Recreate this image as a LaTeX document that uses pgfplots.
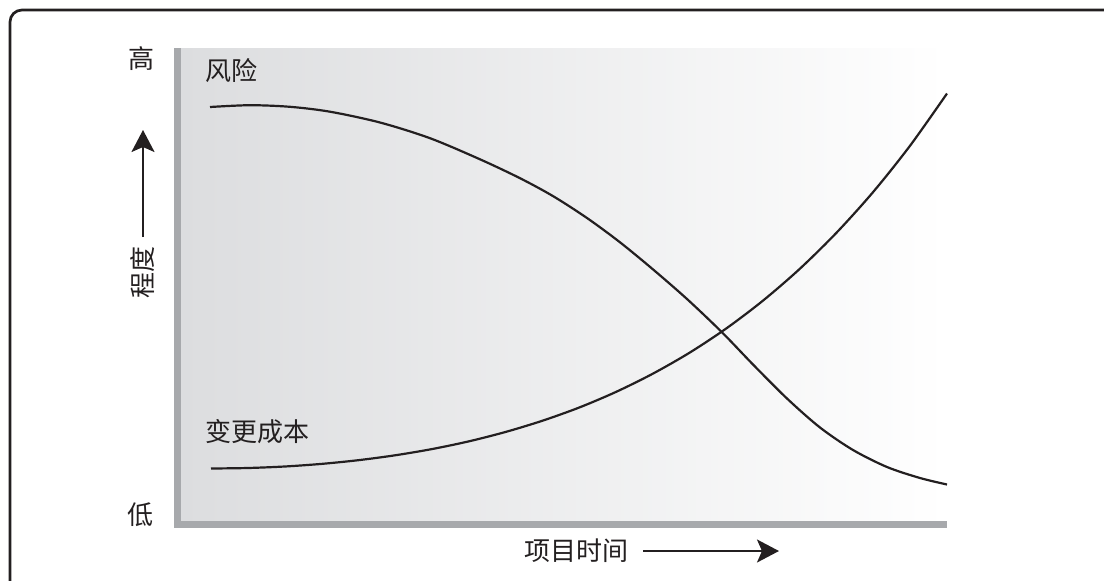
\documentclass[border=0pt]{standalone}
\usepackage{fontspec}
\setmainfont{Noto Sans CJK SC}
\usepackage{pgfplots}
\pgfplotsset{compat=1.18}
\usetikzlibrary{arrows.meta}

\definecolor{ink}{RGB}{35,31,32}
\definecolor{bargray}{RGB}{167,169,172}
\definecolor{bgleft}{RGB}{220,221,223}

% curves, in pixel units of the reference (y measured downwards, negated)
\pgfplotstableread{
x y
210 -107
250 -105.2
290 -106.8
330 -111.7
380 -122.5
430 -138.2
480 -159.3
520 -178.2
553 -196.1
587 -218
620 -242.3
653 -269.4
687 -299
722 -332.3
753 -364.5
787 -398.5
820 -427.5
853 -450
887 -467
920 -478
947 -484.5
}\risk
\pgfplotstableread{
x y
211 -468.5
247.8 -468
284.6 -466.5
321.4 -463.9
358.2 -460.2
395 -455.3
431.8 -449.1
468.6 -441.4
505.4 -432
542.2 -420.8
579 -407.6
615.8 -392
652.6 -373.8
689.4 -352.8
726.2 -328.5
763 -300.6
799.8 -268.8
836.6 -232.6
873.4 -191.7
910.2 -145.5
947 -93.5
}\cost

\begin{document}
\begin{tikzpicture}
  \begin{axis}[
      at={(87pt,-264pt)}, anchor=south west,
      scale only axis,
      width=386.5pt, height=240pt,
      xmin=174, xmax=947, ymin=-528, ymax=-48,
      hide axis,
      clip=false
    ]
    \fill[left color=bgleft, right color=white] (axis cs:181,-521) rectangle (axis cs:947,-48);
    \fill[bargray] (axis cs:174,-528) rectangle (axis cs:181,-48);
    \fill[bargray] (axis cs:174,-528) rectangle (axis cs:947,-521);
    \addplot[ink, line width=1.1pt, smooth, no marks] table[x=x, y=y] {\risk};
    \addplot[ink, line width=1.1pt, smooth, no marks] table[x=x, y=y] {\cost};
  \end{axis}

  \begin{scope}[x=0.5pt, y=-0.5pt, font=\fontsize{13}{15}\selectfont, text=ink]
    \draw[ink, line width=1.35pt, rounded corners=6pt] (10,620) -- (10,10) -- (1140,10);
    \node[inner sep=0] at (141,59) {高};
    \node[inner sep=0] at (140,515) {低};
    \node[inner sep=0, rotate=90] at (143,272) {程度};
    \draw[ink, line width=1pt, -{Stealth[length=11pt, width=11.5pt, inset=2.5pt]}] (143,237) -- (143,130);
    \node[inner sep=0] at (576,551) {项目时间};
    \draw[ink, line width=1pt, -{Stealth[length=11pt, width=11.5pt, inset=2.5pt]}] (643,551) -- (779,551);
    \node[inner sep=0] at (231,71) {风险};
    \node[inner sep=0] at (257.5,431.5) {变更成本};
  \end{scope}
  \pgfresetboundingbox
  \useasboundingbox (0,0) rectangle (552pt,-290pt);
\end{tikzpicture}
\end{document}
